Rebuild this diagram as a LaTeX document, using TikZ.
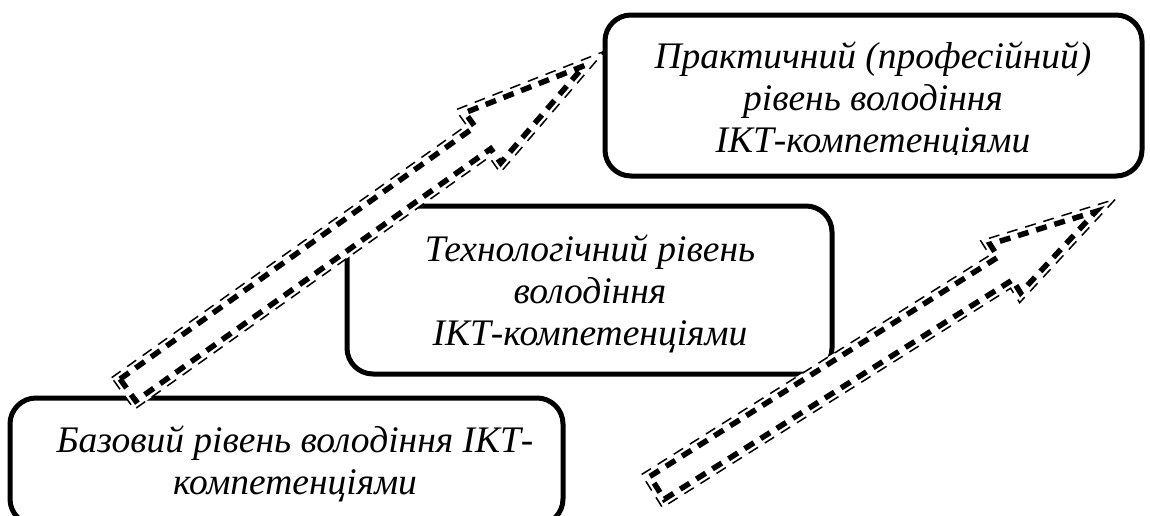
\documentclass[tikz,border=0pt]{standalone}
\usepackage{fontspec}
\setmainfont{Liberation Serif}
\begin{document}
\begin{tikzpicture}[x=1pt,y=-1pt,
  lvlbox/.style={draw, line width=5pt, rounded corners=26pt, fill=white, inner sep=0pt},
  lvltext/.style={font=\fontsize{37.5}{42}\selectfont\itshape, align=center, anchor=base, inner sep=0pt},
  arrthick/.style={line width=5.5pt, dash pattern=on 11pt off 8pt, line join=miter},
  arrthin/.style={line width=1.5pt, dash pattern=on 11pt off 8pt, line join=miter}]
\useasboundingbox (0,0) rectangle (1150,515);

% level boxes
\node[lvlbox, minimum width=537pt, minimum height=161pt] (boxA) at (873.5,95.5) {};
\node[lvlbox, minimum width=485pt, minimum height=168pt] (boxB) at (589.5,290) {};
\node[lvlbox, minimum width=553pt, minimum height=127pt] (boxC) at (286.5,461.5) {};

% block arrow 1 (base -> practical)
\begin{scope}[shift={(123,393.5)}, rotate=35.4]
  \coordinate (a1tail) at (0,0);
  \fill[white] (0,-19.5) -- (435.5,-19.5) -- (435.5,-38.5) -- (591,0) -- (435.5,38.5) -- (435.5,19.5) -- (0,19.5) -- cycle;
  \draw[arrthin] (0,-19.5) -- (435.5,-19.5) -- (435.5,-38.5) -- (591,0) -- (435.5,38.5) -- (435.5,19.5) -- (0,19.5) -- cycle;
  \draw[arrthick] (6,-13.5) -- (441.5,-13.5) -- (441.5,-30.8) -- (566,0) -- (441.5,30.8) -- (441.5,13.5) -- (6,13.5) -- cycle;
\end{scope}

% block arrow 2
\begin{scope}[shift={(652,491)}, rotate=32.2]
  \coordinate (a2tail) at (0,0);
  \fill[white] (0,-19.5) -- (411.5,-19.5) -- (411.5,-36.5) -- (547.7,0) -- (411.5,36.5) -- (411.5,19.5) -- (0,19.5) -- cycle;
  \draw[arrthin] (0,-19.5) -- (411.5,-19.5) -- (411.5,-36.5) -- (547.7,0) -- (411.5,36.5) -- (411.5,19.5) -- (0,19.5) -- cycle;
  \draw[arrthick] (6,-13.5) -- (417.5,-13.5) -- (417.5,-28.7) -- (524.5,0) -- (417.5,28.7) -- (417.5,13.5) -- (6,13.5) -- cycle;
\end{scope}

% texts (base anchor = baseline of the last line)
\begin{scope}
  \clip (600,10) rectangle (1150,154.5);
  \node[lvltext] (tA) at (873,152) {Практичний (професійний)\\рівень володіння\\ІКТ-компетенціями};
\end{scope}
\node[lvltext] (tB) at (590,345) {Технологічний рівень\\володіння\\ІКТ-компетенціями};
\node[lvltext] (tC) at (295,494) {Базовий рівень володіння ІКТ-\\компетенціями};
\end{tikzpicture}
\end{document}
